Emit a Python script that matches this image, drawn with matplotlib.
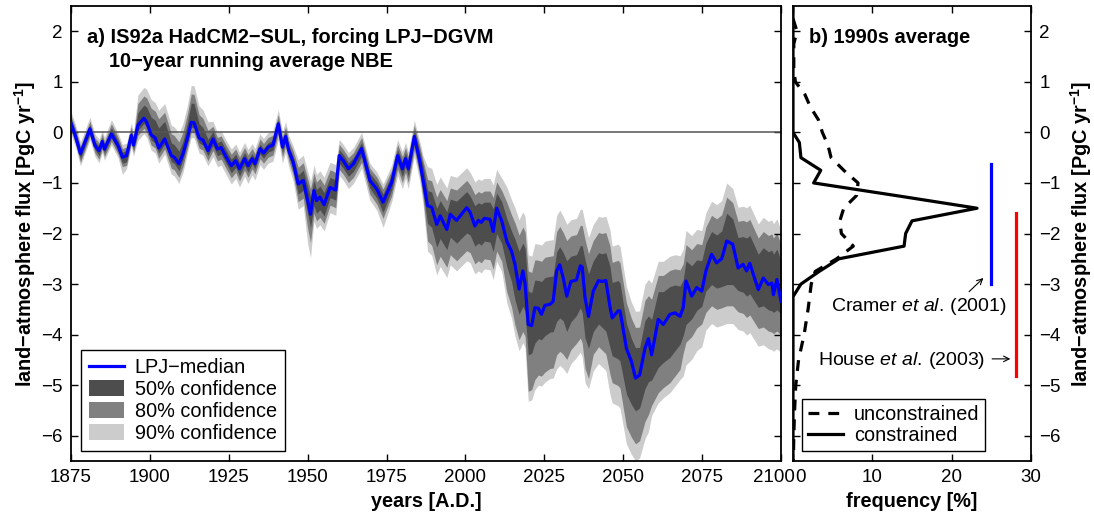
import numpy as np
import matplotlib
matplotlib.use('Agg')
import matplotlib.pyplot as plt
from matplotlib.patches import Patch
from matplotlib.lines import Line2D
from matplotlib.transforms import ScaledTranslation

plt.rcParams['font.family'] = ['Liberation Sans', 'DejaVu Sans']
plt.rcParams['mathtext.fontset'] = 'custom'
plt.rcParams['mathtext.rm'] = 'Liberation Sans'
plt.rcParams['mathtext.it'] = 'Liberation Sans:italic'
plt.rcParams['mathtext.bf'] = 'Liberation Sans:bold'

# ---------------- panel a data ----------------
years = [1875.0, 1876.3, 1878.0, 1881.0, 1882.6, 1883.9, 1884.9, 1885.6, 1887.8, 1889.9,
         1891.3, 1892.6, 1894.1, 1894.8, 1896.2, 1898.1, 1899.0, 1900.4, 1901.7, 1902.8,
         1904.7, 1906.8, 1907.7, 1909.2, 1910.5, 1911.9, 1913.1, 1914.0, 1915.6, 1916.8,
         1918.4, 1920.0, 1921.4, 1922.6, 1924.2, 1925.8, 1927.2, 1928.4, 1930.0, 1931.1,
         1932.4, 1933.3, 1934.9, 1936.0, 1937.5, 1939.0, 1940.7, 1942.0, 1943.0, 1944.0,
         1945.4, 1947.0, 1948.6, 1950.0, 1950.9, 1952.0, 1952.8, 1953.9, 1955.2, 1957.1,
         1958.9, 1960.0, 1961.3, 1962.9, 1964.5, 1967.1, 1969.7, 1971.9, 1973.9, 1976.6,
         1978.5, 1980.0, 1981.0, 1981.9, 1983.8, 1985.6, 1986.6, 1988.0, 1989.3, 1990.9,
         1992.0, 1994.1, 1995.2, 1997.2, 2000.4, 2001.5, 2003.0, 2004.1, 2005.0, 2006.0,
         2007.8, 2008.8, 2009.9, 2011.5, 2013.1, 2014.6, 2015.7, 2017.0, 2018.2, 2018.9,
         2019.9, 2021.0, 2022.0, 2023.1, 2024.1, 2025.2, 2026.8, 2027.8, 2028.9, 2029.9,
         2031.0, 2032.1, 2033.4, 2035.2, 2036.4, 2037.0, 2037.9, 2039.0, 2040.5, 2042.2,
         2043.2, 2044.5, 2045.8, 2046.5, 2048.4, 2049.0, 2051.0, 2052.6, 2053.9, 2055.2,
         2056.9, 2058.0, 2059.0, 2061.1, 2062.7, 2064.8, 2066.4, 2068.0, 2069.0, 2069.9,
         2071.7, 2073.3, 2074.9, 2076.2, 2078.0, 2079.6, 2081.2, 2082.8, 2084.7, 2086.4,
         2088.0, 2089.1, 2090.1, 2092.8, 2094.4, 2096.0, 2097.1, 2097.6, 2098.7, 2100.0]

median = [0.18, -0.05, -0.42, 0.07, -0.26, -0.36, -0.18, -0.33, -0.03, -0.26,
          -0.49, -0.46, -0.06, -0.25, 0.14, 0.28, 0.20, -0.05, -0.11, -0.31,
          -0.13, -0.46, -0.49, -0.62, -0.42, -0.11, 0.20, 0.19, -0.11, -0.15,
          -0.36, -0.13, -0.33, -0.30, -0.49, -0.66, -0.56, -0.72, -0.52, -0.66,
          -0.52, -0.62, -0.32, -0.41, -0.29, -0.25, 0.17, -0.29, -0.08, -0.36,
          -0.59, -1.02, -0.95, -1.35, -1.62, -1.15, -1.35, -1.28, -1.43, -1.09,
          -1.14, -0.46, -0.56, -0.72, -0.62, -0.32, -0.95, -1.12, -1.38, -0.99,
          -0.46, -0.72, -0.52, -0.72, -0.08, -0.60, -0.95, -1.45, -1.48, -1.82,
          -1.65, -1.92, -1.62, -1.74, -1.49, -1.58, -1.85, -1.74, -1.78, -1.70,
          -1.72, -1.96, -1.50, -1.75, -2.15, -2.35, -2.61, -3.10, -2.74, -2.99,
          -3.80, -3.82, -3.47, -3.48, -3.60, -3.42, -3.40, -3.34, -2.74, -2.62,
          -2.88, -3.24, -2.95, -2.92, -2.64, -2.66, -3.27, -3.64, -3.14, -2.93,
          -2.95, -2.93, -3.45, -3.67, -3.53, -3.53, -4.27, -4.53, -4.86, -4.80,
          -4.27, -4.08, -4.40, -3.70, -3.80, -3.60, -3.57, -3.64, -3.47, -2.94,
          -3.24, -3.07, -3.14, -2.74, -2.41, -2.58, -2.50, -2.15, -2.21, -2.68,
          -2.61, -2.74, -2.59, -3.11, -2.88, -3.01, -2.98, -3.21, -2.91, -3.34]

# thickness of each confidence band above the median (median -> 50% edge, 50% -> 80%, 80% -> 90%)
up50 = [0.08, 0.08, 0.08, 0.08, 0.08, 0.08, 0.08, 0.08, 0.12, 0.10,
        0.10, 0.10, 0.10, 0.10, 0.25, 0.26, 0.30, 0.35, 0.35, 0.40,
        0.35, 0.25, 0.25, 0.25, 0.25, 0.30, 0.38, 0.38, 0.28, 0.25,
        0.22, 0.15, 0.13, 0.13, 0.13, 0.13, 0.13, 0.13, 0.12, 0.12,
        0.10, 0.10, 0.09, 0.09, 0.09, 0.09, 0.08, 0.10, 0.09, 0.10,
        0.12, 0.18, 0.20, 0.28, 0.35, 0.20, 0.22, 0.22, 0.24, 0.20,
        0.20, 0.12, 0.12, 0.12, 0.12, 0.12, 0.14, 0.14, 0.16, 0.14,
        0.12, 0.14, 0.12, 0.14, 0.12, 0.20, 0.28, 0.30, 0.30, 0.32,
        0.30, 0.35, 0.30, 0.38, 0.32, 0.32, 0.40, 0.35, 0.36, 0.32,
        0.34, 0.45, 0.30, 0.38, 0.45, 0.40, 0.50, 0.75, 0.55, 0.70,
        0.66, 0.65, 0.55, 0.55, 0.65, 0.55, 0.55, 0.50, 0.38, 0.36,
        0.50, 0.70, 0.50, 0.50, 0.40, 0.42, 0.75, 0.84, 0.60, 0.55,
        0.55, 0.55, 0.80, 0.70, 0.60, 0.55, 0.50, 0.45, 0.60, 0.55,
        0.55, 0.45, 0.70, 0.55, 0.65, 0.55, 0.55, 0.60, 0.55, 0.40,
        0.60, 0.55, 0.60, 0.55, 0.45, 0.55, 0.55, 0.55, 0.50, 0.60,
        0.55, 0.65, 0.55, 0.70, 0.60, 0.65, 0.65, 0.80, 0.60, 0.80]

up80 = [0.07, 0.07, 0.07, 0.07, 0.07, 0.07, 0.07, 0.07, 0.08, 0.07,
        0.07, 0.07, 0.07, 0.07, 0.18, 0.18, 0.18, 0.18, 0.18, 0.18,
        0.18, 0.18, 0.18, 0.18, 0.18, 0.18, 0.18, 0.18, 0.18, 0.18,
        0.18, 0.10, 0.10, 0.10, 0.10, 0.10, 0.10, 0.10, 0.10, 0.10,
        0.10, 0.10, 0.10, 0.10, 0.10, 0.10, 0.10, 0.10, 0.10, 0.10,
        0.10, 0.15, 0.15, 0.15, 0.15, 0.15, 0.15, 0.15, 0.15, 0.15,
        0.15, 0.10, 0.10, 0.10, 0.10, 0.10, 0.10, 0.10, 0.10, 0.10,
        0.10, 0.10, 0.10, 0.10, 0.10, 0.10, 0.10, 0.22, 0.22, 0.22,
        0.22, 0.22, 0.22, 0.22, 0.22, 0.22, 0.22, 0.22, 0.22, 0.22,
        0.22, 0.22, 0.22, 0.22, 0.32, 0.32, 0.32, 0.32, 0.32, 0.32,
        0.40, 0.40, 0.40, 0.40, 0.40, 0.40, 0.40, 0.40, 0.40, 0.40,
        0.40, 0.40, 0.40, 0.40, 0.40, 0.40, 0.40, 0.40, 0.40, 0.40,
        0.40, 0.40, 0.40, 0.40, 0.40, 0.40, 0.40, 0.40, 0.40, 0.40,
        0.40, 0.40, 0.40, 0.32, 0.32, 0.32, 0.32, 0.32, 0.32, 0.32,
        0.32, 0.32, 0.32, 0.32, 0.32, 0.32, 0.32, 0.32, 0.32, 0.32,
        0.32, 0.32, 0.32, 0.32, 0.32, 0.32, 0.32, 0.32, 0.32, 0.32]

up90 = [0.08, 0.08, 0.08, 0.08, 0.08, 0.08, 0.08, 0.08, 0.08, 0.08,
        0.08, 0.08, 0.08, 0.08, 0.17, 0.17, 0.17, 0.17, 0.17, 0.17,
        0.17, 0.17, 0.17, 0.17, 0.17, 0.17, 0.17, 0.17, 0.17, 0.17,
        0.17, 0.10, 0.10, 0.10, 0.10, 0.10, 0.10, 0.10, 0.10, 0.10,
        0.10, 0.10, 0.10, 0.10, 0.10, 0.10, 0.10, 0.10, 0.10, 0.10,
        0.10, 0.15, 0.15, 0.15, 0.15, 0.15, 0.15, 0.15, 0.15, 0.15,
        0.15, 0.10, 0.10, 0.10, 0.10, 0.10, 0.10, 0.10, 0.10, 0.10,
        0.10, 0.10, 0.10, 0.10, 0.10, 0.10, 0.10, 0.25, 0.25, 0.25,
        0.25, 0.25, 0.25, 0.25, 0.25, 0.25, 0.25, 0.25, 0.25, 0.25,
        0.25, 0.25, 0.25, 0.25, 0.30, 0.30, 0.30, 0.30, 0.30, 0.30,
        0.32, 0.32, 0.32, 0.32, 0.32, 0.32, 0.32, 0.32, 0.32, 0.32,
        0.32, 0.32, 0.32, 0.32, 0.32, 0.32, 0.32, 0.32, 0.32, 0.32,
        0.32, 0.32, 0.32, 0.32, 0.32, 0.32, 0.32, 0.32, 0.32, 0.32,
        0.32, 0.32, 0.32, 0.28, 0.28, 0.28, 0.28, 0.28, 0.28, 0.28,
        0.28, 0.28, 0.28, 0.28, 0.28, 0.28, 0.28, 0.28, 0.28, 0.28,
        0.28, 0.28, 0.28, 0.28, 0.28, 0.28, 0.28, 0.28, 0.28, 0.28]

# thickness of each confidence band below the median
dn50 = [0.08, 0.08, 0.10, 0.08, 0.08, 0.10, 0.08, 0.08, 0.08, 0.10,
        0.12, 0.12, 0.08, 0.08, 0.10, 0.10, 0.10, 0.10, 0.10, 0.10,
        0.10, 0.12, 0.12, 0.14, 0.12, 0.10, 0.10, 0.10, 0.10, 0.10,
        0.10, 0.13, 0.13, 0.13, 0.13, 0.14, 0.13, 0.14, 0.13, 0.13,
        0.10, 0.10, 0.10, 0.10, 0.10, 0.10, 0.10, 0.10, 0.10, 0.10,
        0.15, 0.20, 0.20, 0.25, 0.26, 0.30, 0.25, 0.25, 0.22, 0.20,
        0.20, 0.15, 0.15, 0.15, 0.15, 0.15, 0.15, 0.18, 0.20, 0.15,
        0.15, 0.15, 0.15, 0.15, 0.15, 0.15, 0.25, 0.35, 0.40, 0.45,
        0.45, 0.40, 0.45, 0.45, 0.50, 0.45, 0.40, 0.45, 0.45, 0.45,
        0.45, 0.40, 0.50, 0.45, 0.50, 0.60, 0.70, 0.50, 0.70, 0.55,
        0.60, 0.55, 0.70, 0.60, 0.50, 0.60, 0.55, 0.60, 1.00, 1.05,
        0.85, 0.70, 0.80, 0.70, 0.83, 0.90, 0.80, 0.63, 0.80, 0.86,
        0.90, 1.00, 0.80, 0.75, 0.95, 1.00, 0.90, 0.85, 0.65, 0.65,
        0.80, 0.85, 0.50, 0.95, 0.75, 0.85, 0.75, 0.55, 0.55, 0.86,
        0.45, 0.45, 0.30, 0.40, 0.60, 0.50, 0.55, 0.86, 0.80, 0.45,
        0.55, 0.50, 0.60, 0.35, 0.55, 0.50, 0.55, 0.35, 0.60, 0.25]

dn80 = [0.07, 0.07, 0.07, 0.07, 0.07, 0.07, 0.07, 0.07, 0.07, 0.07,
        0.07, 0.07, 0.07, 0.07, 0.10, 0.10, 0.10, 0.10, 0.10, 0.10,
        0.10, 0.13, 0.13, 0.13, 0.13, 0.10, 0.10, 0.10, 0.10, 0.10,
        0.10, 0.10, 0.10, 0.10, 0.10, 0.10, 0.10, 0.10, 0.10, 0.10,
        0.10, 0.10, 0.10, 0.10, 0.10, 0.10, 0.10, 0.10, 0.10, 0.10,
        0.10, 0.15, 0.15, 0.30, 0.30, 0.15, 0.15, 0.15, 0.15, 0.15,
        0.15, 0.12, 0.12, 0.12, 0.12, 0.12, 0.12, 0.12, 0.12, 0.12,
        0.12, 0.12, 0.12, 0.12, 0.12, 0.12, 0.12, 0.35, 0.35, 0.35,
        0.35, 0.35, 0.35, 0.35, 0.35, 0.35, 0.35, 0.35, 0.35, 0.35,
        0.35, 0.35, 0.35, 0.35, 0.50, 0.50, 0.50, 0.50, 0.50, 0.50,
        0.72, 0.72, 0.72, 0.72, 0.72, 0.72, 0.72, 0.72, 0.66, 0.66,
        0.66, 0.55, 0.55, 0.55, 0.60, 0.60, 0.60, 0.60, 0.45, 0.45,
        0.45, 0.45, 0.53, 0.53, 0.53, 0.53, 0.65, 0.65, 0.65, 0.65,
        0.65, 0.65, 0.50, 0.50, 0.50, 0.50, 0.50, 0.50, 0.35, 0.35,
        0.35, 0.35, 0.35, 0.42, 0.42, 0.42, 0.42, 0.42, 0.42, 0.42,
        0.42, 0.42, 0.42, 0.42, 0.42, 0.42, 0.42, 0.42, 0.42, 0.42]

dn90 = [0.07, 0.07, 0.07, 0.07, 0.07, 0.07, 0.07, 0.07, 0.07, 0.07,
        0.15, 0.07, 0.07, 0.07, 0.10, 0.10, 0.10, 0.10, 0.10, 0.10,
        0.10, 0.12, 0.12, 0.12, 0.12, 0.10, 0.10, 0.10, 0.10, 0.10,
        0.10, 0.12, 0.12, 0.12, 0.12, 0.12, 0.12, 0.12, 0.12, 0.12,
        0.12, 0.12, 0.12, 0.12, 0.12, 0.12, 0.12, 0.12, 0.12, 0.12,
        0.12, 0.15, 0.15, 0.30, 0.30, 0.15, 0.15, 0.15, 0.15, 0.15,
        0.15, 0.12, 0.12, 0.12, 0.12, 0.12, 0.12, 0.12, 0.18, 0.12,
        0.12, 0.12, 0.12, 0.12, 0.12, 0.12, 0.12, 0.20, 0.20, 0.20,
        0.20, 0.20, 0.20, 0.20, 0.20, 0.20, 0.20, 0.20, 0.20, 0.20,
        0.20, 0.20, 0.20, 0.20, 0.22, 0.22, 0.22, 0.22, 0.22, 0.22,
        0.20, 0.20, 0.20, 0.20, 0.20, 0.20, 0.20, 0.20, 0.28, 0.28,
        0.28, 0.28, 0.28, 0.28, 0.28, 0.28, 0.28, 0.20, 0.33, 0.33,
        0.33, 0.33, 0.40, 0.40, 0.40, 0.40, 0.34, 0.34, 0.34, 0.34,
        0.34, 0.34, 0.20, 0.20, 0.20, 0.20, 0.20, 0.20, 0.45, 0.45,
        0.45, 0.45, 0.45, 0.35, 0.35, 0.35, 0.35, 0.35, 0.35, 0.35,
        0.35, 0.35, 0.35, 0.35, 0.35, 0.35, 0.35, 0.35, 0.35, 0.35]

xticks_a = [1875, 1900, 1925, 1950, 1975, 2000, 2025, 2050, 2075, 2100]
yticks = [-6, -5, -4, -3, -2, -1, 0, 1, 2]

# ---------------- panel b data ----------------
flux_c = [2.5, 0.0, -0.2, -0.5, -0.75, -1.0, -1.25, -1.5, -1.75, -2.0, -2.25, -2.5,
          -2.75, -3.0, -3.25, -6.5]
freq_c = [0.0, 0.0, 0.8, 1.0, 3.5, 2.6, 13.0, 23.2, 15.0, 14.2, 14.0, 5.8,
          3.3, 1.0, 0.0, 0.0]

flux_u = [2.25, 2.0, 1.75, 1.5, 1.25, 1.0, 0.75, 0.5, 0.25, 0.0, -0.25, -0.5,
          -0.75, -1.0, -1.25, -1.5, -1.75, -2.0, -2.25, -2.5, -2.75, -3.0,
          -3.5, -4.0, -4.5, -5.0, -5.5, -6.0, -6.5]
freq_u = [0.0, 0.5, 0.1, 0.1, 0.1, 0.3, 1.5, 2.2, 3.2, 3.7, 4.4, 4.8,
          6.4, 8.2, 8.0, 6.4, 5.9, 6.1, 7.6, 5.5, 2.8, 2.3,
          1.9, 1.4, 0.7, 0.35, 0.2, 0.1, 0.05]

cramer_x, cramer_range = 25.0, (-0.62, -3.0)
house_x, house_range = 28.1, (-1.6, -4.82)
xticks_b = [0, 10, 20, 30]

# ---------------- figure ----------------
fig = plt.figure(figsize=(10.94, 5.18), dpi=100)
ax1 = fig.add_axes([71 / 1094, 1 - 461 / 518, 710 / 1094, 455 / 518])
ax2 = fig.add_axes([793 / 1094, 1 - 461 / 518, 238 / 1094, 455 / 518])

FS = 13.5      # tick labels
FL = 14.3      # axis labels / legends
FT = 14.4      # panel titles
DARK, MID, LIGHT = '#4d4d4d', '#808080', '#cccccc'
DASH = (3.4, 2.8)

m = np.array(median)
hi50 = m + np.array(up50)
hi80 = hi50 + np.array(up80)
hi90 = hi80 + np.array(up90)
lo50 = m - np.array(dn50)
lo80 = lo50 - np.array(dn80)
lo90 = lo80 - np.array(dn90)

ax1.fill_between(years, lo90, hi90, color=LIGHT, lw=0)
ax1.fill_between(years, lo80, hi80, color=MID, lw=0)
ax1.fill_between(years, lo50, hi50, color=DARK, lw=0)
ax1.axhline(0, color='#555555', lw=1.1, zorder=2)
ax1.plot(years, median, color='#0000ff', lw=2.3, zorder=3)

ax1.set_xlim(1875, 2100)
ax1.set_ylim(-6.5, 2.5)
ax1.set_xticks(xticks_a)
ax1.set_yticks(yticks)

ax1.text(1880, 1.77, 'a) IS92a HadCM2\u2212SUL, forcing LPJ\u2212DGVM', fontsize=FT,
         fontweight='bold', va='baseline', ha='left')
ax1.text(1887.1, 1.29, '10\u2212year running average NBE', fontsize=FT,
         fontweight='bold', va='baseline', ha='left')

ax1.set_xlabel('years [A.D.]', fontsize=FL, fontweight='bold', labelpad=4)
ax1.set_ylabel('land\u2212atmosphere flux [PgC yr$^{\\mathbf{-1}}$]', fontsize=FL,
               fontweight='bold', labelpad=2.5)

handles = [Line2D([], [], color='#0000ff', lw=2.3),
           Patch(facecolor=DARK, edgecolor='none'),
           Patch(facecolor=MID, edgecolor='none'),
           Patch(facecolor=LIGHT, edgecolor='none')]
labels = ['LPJ\u2212median', '50% confidence', '80% confidence', '90% confidence']
leg1 = ax1.legend(handles, labels, loc='lower left', bbox_to_anchor=(0.014, 0.022),
                  borderaxespad=0, fontsize=FL, frameon=True, fancybox=False,
                  edgecolor='black', framealpha=1, handlelength=1.75, handleheight=0.85,
                  labelspacing=0.15, handletextpad=0.55, borderpad=0.4)
leg1.get_frame().set_linewidth(1.0)

# panel b
ax2.plot(freq_u, flux_u, color='black', lw=2.3, dashes=DASH)
ax2.plot(freq_c, flux_c, color='black', lw=2.3)
ax2.plot([cramer_x, cramer_x], cramer_range, color='#0000ff', lw=2.3)
ax2.plot([house_x, house_x], house_range, color='#ff0000', lw=2.3)

ax2.text(27.0, -3.44, r'$\mathrm{Cramer}\ \mathit{et\ al.}\,\mathrm{(2001)}$', fontsize=14,
         ha='right', va='center')
ax2.annotate('', xy=(24.0, -2.88), xytext=(22.2, -3.15),
             arrowprops=dict(arrowstyle='->', lw=0.8, color='black', shrinkA=0, shrinkB=0))
ax2.text(24.2, -4.52, r'$\mathrm{House}\ \mathit{et\ al.}\,\mathrm{(2003)}$', fontsize=14,
         ha='right', va='center')
ax2.annotate('', xy=(27.4, -4.48), xytext=(25.1, -4.48),
             arrowprops=dict(arrowstyle='->', lw=0.8, color='black', shrinkA=0, shrinkB=0))

ax2.text(2.0, 1.77, 'b) 1990s average', fontsize=FT, fontweight='bold',
         va='baseline', ha='left')

ax2.set_xlim(0, 30)
ax2.set_ylim(-6.5, 2.5)
ax2.set_xticks(xticks_b)
ax2.set_yticks(yticks)
ax2.yaxis.tick_right()
ax2.yaxis.set_label_position('right')
ax2.set_xlabel('frequency [%]', fontsize=FL, fontweight='bold', labelpad=4)
ax2.set_ylabel('land\u2212atmosphere flux [PgC yr$^{\\mathbf{-1}}$]', fontsize=FL,
               fontweight='bold', labelpad=5)

h2 = [Line2D([], [], color='black', lw=2.3, dashes=DASH),
      Line2D([], [], color='black', lw=2.3)]
leg2 = ax2.legend(h2, ['unconstrained', 'constrained'], loc='lower left',
                  bbox_to_anchor=(0.038, 0.022), borderaxespad=0, fontsize=FL,
                  frameon=True, fancybox=False, edgecolor='black', framealpha=1,
                  handlelength=1.75, labelspacing=0.1, handletextpad=0.55, borderpad=0.3)
leg2.get_frame().set_linewidth(1.0)

for ax in (ax1, ax2):
    for s in ax.spines.values():
        s.set_linewidth(1.3)
    ax.tick_params(direction='in', length=5, width=1.0, labelsize=FS,
                   top=True, bottom=True, left=True, right=True, pad=6)
ax2.tick_params(labelleft=False, labelright=True)

# nudge the two touching tick labels ("2100" and "0") apart as in the original
lab_last = ax1.get_xticklabels()[-1]
lab_last.set_transform(lab_last.get_transform() + ScaledTranslation(-7 / 100, 0, fig.dpi_scale_trans))
lab_first = ax2.get_xticklabels()[0]
lab_first.set_horizontalalignment('left')
lab_first.set_transform(lab_first.get_transform() + ScaledTranslation(2 / 100, 0, fig.dpi_scale_trans))

fig.savefig('out.png', dpi=100)
